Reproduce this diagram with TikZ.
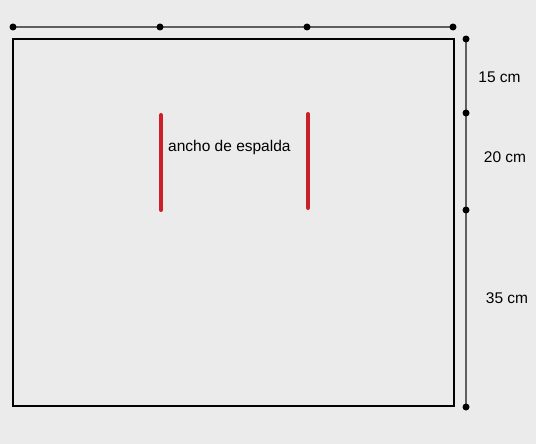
\documentclass[tikz,border=0pt]{standalone}
\usepackage{fontspec}
\setmainfont{Liberation Sans}
\usetikzlibrary{positioning,backgrounds}

\definecolor{paper}{RGB}{235,235,235}
\definecolor{dimgray}{RGB}{95,95,95}
\definecolor{markred}{RGB}{204,32,40}

\tikzset{
  dot/.style={circle, fill=black, inner sep=0pt, minimum size=7pt},
  dimline/.style={draw=dimgray, line width=1.4pt},
  outline/.style={draw=black, line width=1.2pt},
  redmark/.style={draw=markred, line width=4pt, line cap=round},
  lbl/.style={font=\fontsize{15.5}{17}\selectfont, inner sep=0pt}
}

\begin{document}
\begin{tikzpicture}[x=1pt, y=-1pt]

  % Piece
  \coordinate (nw) at (13,39);
  \coordinate (se) at (454,406);
  \draw[outline] (nw) rectangle (se);

  % Top measure
  \node[dot] (t0) at (13,27) {};
  \node[dot] (t1) at (160,27) {};
  \node[dot] (t2) at (307,27) {};
  \node[dot] (t3) at (453,27) {};

  % Side measure
  \node[dot] (r0) at (466,39) {};
  \node[dot] (r1) at (466,113) {};
  \node[dot] (r2) at (466,210) {};
  \node[dot] (r3) at (466,407) {};

  % Side labels
  \node[lbl] (l15) at (499.5,77) {15 cm};
  \node[lbl] (l20) at (505,157.5) {20 cm};
  \node[lbl] (l35) at (507,298) {35 cm};

  % Back width marks
  \coordinate (m1a) at (161,115);
  \coordinate (m1b) at (161,210);
  \coordinate (m2a) at (308,114);
  \coordinate (m2b) at (308,208);
  \draw[redmark] (m1a) -- (m1b);
  \draw[redmark] (m2a) -- (m2b);
  \node[lbl, anchor=base west] (back) at (168,151.5) {ancho de espalda};

  % Measure lines and background
  \begin{scope}[on background layer]
    \fill[paper] (0,0) rectangle (536,444);
    \draw[dimline] (t0.center) -- (t1.center) -- (t2.center) -- (t3.center);
    \draw[dimline] (r0.center) -- (r1.center) -- (r2.center) -- (r3.center);
  \end{scope}
  \useasboundingbox (0,0) rectangle (536,444);

\end{tikzpicture}
\end{document}
